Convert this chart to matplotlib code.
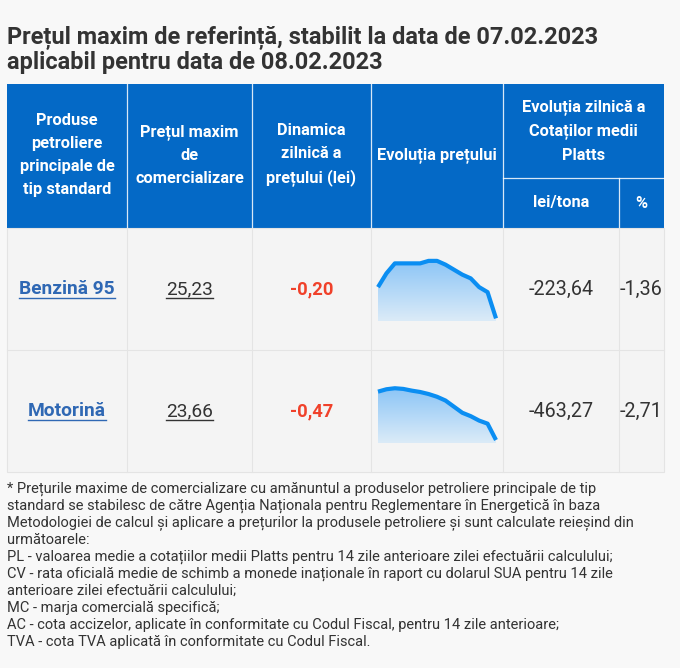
import matplotlib
matplotlib.use("Agg")
import matplotlib.pyplot as plt
import numpy as np
from matplotlib.colors import LinearSegmentedColormap
from matplotlib.patches import Rectangle

plt.rcParams['font.family'] = ['Liberation Sans Narrow', 'Roboto', 'DejaVu Sans']

# ---------------- data ----------------
title_lines = ["Prețul maxim de referință, stabilit la data de 07.02.2023",
               "aplicabil pentru data de 08.02.2023"]
products = ["Benzină 95", "Motorină"]
prices = ["25,23", "23,66"]
dynamics = ["-0,20", "-0,47"]
platts_lei = ["-223,64", "-463,27"]
platts_pct = ["-1,36", "-2,71"]
spark_benzina = [25.48, 25.59, 25.67, 25.67, 25.67, 25.67, 25.69, 25.69,
                 25.66, 25.62, 25.58, 25.55, 25.48, 25.44, 25.23]
spark_motorina = [25.08, 25.15, 25.18, 25.16, 25.11, 25.07, 25.01, 24.93,
                  24.82, 24.64, 24.46, 24.36, 24.23, 24.14, 23.66]
spark_ylims = [(25.209, 25.737), (23.572, 25.51)]
header_cols = ["Produse\npetroliere\nprincipale de\ntip standard",
               "Prețul maxim\nde\ncomercializare",
               "Dinamica\nzilnică a\nprețului (lei)",
               "Evoluția prețului"]
header_group = "Evoluția zilnică a\nCotaților medii\nPlatts"
sub_headers = ["lei/tona", "%"]
footnote = [
    "* Prețurile maxime de comercializare cu amănuntul a produselor petroliere principale de tip",
    "standard se stabilesc de către Agenția Naționala pentru Reglementare în Energetică în baza",
    "Metodologiei de calcul și aplicare a prețurilor la produsele petroliere și sunt calculate reieșind din",
    "următoarele:",
    "PL - valoarea medie a cotațiilor medii Platts pentru 14 zile anterioare zilei efectuării calculului;",
    "CV - rata oficială medie de schimb a monede inaționale în raport cu dolarul SUA pentru 14 zile",
    "anterioare zilei efectuării calculului;",
    "MC - marja comercială specifică;",
    "AC - cota accizelor, aplicate în conformitate cu Codul Fiscal, pentru 14 zile anterioare;",
    "TVA - cota TVA aplicată în conformitate cu Codul Fiscal.",
]

# ---------------- layout ----------------
W, H = 680, 668
BG = "#f8f8f8"
ROWBG = "#f4f4f4"
BLUE = "#0469c6"
GRID = "#e4e4e4"
cols = [7, 127, 252, 371, 503, 619, 664]
head_top, sub_y, head_bot = 84, 178, 228
row_edges = [228, 350, 472]

fig = plt.figure(figsize=(W / 100, H / 100), dpi=100, facecolor=BG)
ax = fig.add_axes([0, 0, 1, 1])
ax.set_xlim(0, W)
ax.set_ylim(H, 0)
ax.axis("off")

# title
for i, t in enumerate(title_lines):
    ax.text(7, 38 + i * 25, t, fontsize=16.9, fontweight="bold", color="#333333",
            ha="left", va="center")

# header background
ax.add_patch(Rectangle((cols[0], head_top), cols[-1] - cols[0], head_bot - head_top,
                       facecolor=BLUE, edgecolor="none"))
for x in cols[1:-1]:
    y0 = head_top if x != cols[5] else sub_y
    ax.plot([x, x], [y0, head_bot], color="white", lw=0.9, alpha=0.85)
ax.plot([cols[4], cols[6]], [sub_y, sub_y], color="white", lw=0.9, alpha=0.85)

hc = dict(color="white", fontweight="bold", fontsize=11.8, ha="center",
          va="center", linespacing=1.68)
for i, t in enumerate(header_cols):
    ax.text((cols[i] + cols[i + 1]) / 2, 155, t, **hc)
ax.text((cols[4] + cols[6]) / 2, 131, header_group, **hc)
for j, t in enumerate(sub_headers):
    ax.text((cols[4 + j] + cols[5 + j]) / 2, 203, t, **hc)

# body
ax.add_patch(Rectangle((cols[0], row_edges[0]), cols[-1] - cols[0],
                       row_edges[-1] - row_edges[0], facecolor=ROWBG,
                       edgecolor=GRID, lw=0.8))
for x in cols[1:-1]:
    ax.plot([x, x], [row_edges[0], row_edges[-1]], color=GRID, lw=0.8)
ax.plot([cols[0], cols[-1]], [row_edges[1]] * 2, color=GRID, lw=0.8)

underlined = []
for r in range(len(products)):
    yc = (row_edges[r] + row_edges[r + 1]) / 2
    t1 = ax.text((cols[0] + cols[1]) / 2, yc, products[r], color="#2f68b4",
                 fontweight="bold", fontsize=13.8, ha="center", va="center")
    t2 = ax.text((cols[1] + cols[2]) / 2, yc, prices[r], color="#333333",
                 fontsize=13.8, ha="center", va="center")
    underlined += [(t1, "#2f68b4"), (t2, "#333333")]
    ax.text((cols[2] + cols[3]) / 2, yc, dynamics[r], color="#f0412a",
            fontweight="bold", fontsize=13.2, ha="center", va="center")
    ax.text((cols[4] + cols[5]) / 2, yc, platts_lei[r], color="#333333",
            fontsize=14.2, ha="center", va="center")
    ax.text((cols[5] + cols[6]) / 2, yc, platts_pct[r], color="#333333",
            fontsize=14.2, ha="center", va="center")

# footnote
for i, t in enumerate(footnote):
    ax.text(7, 489 + i * 17, t, fontsize=10.5, color="#333333", ha="left", va="center")

# underlines
fig.canvas.draw()
inv = ax.transData.inverted()
for t, c in underlined:
    bb = t.get_window_extent()
    (x0, y0), (x1, y1) = inv.transform([[bb.x0, bb.y0], [bb.x1, bb.y1]])
    ax.plot([x0, x1], [y0 - 0.5, y0 - 0.5], color=c, lw=1.0)

# sparklines
cmap = LinearSegmentedColormap.from_list("g", ["#8cc5f6", "#dbebf8"])
spark_boxes = [(378, 255, 496, 321), (378, 377, 496, 443)]
for series, (sx0, sy0, sx1, sy1), yl in zip([spark_benzina, spark_motorina],
                                             spark_boxes, spark_ylims):
    sax = fig.add_axes([sx0 / W, 1 - sy1 / H, (sx1 - sx0) / W, (sy1 - sy0) / H])
    sax.set_facecolor("none")
    sax.axis("off")
    xs = np.arange(len(series))
    sax.set_xlim(0, len(series) - 1)
    sax.set_ylim(*yl)
    poly = sax.fill_between(xs, series, yl[0], facecolor="none", edgecolor="none")
    grad = np.linspace(0, 1, 100).reshape(-1, 1)
    im = sax.imshow(grad, cmap=cmap, aspect="auto",
                    extent=[0, len(series) - 1, yl[0], max(series)], origin="upper")
    im.set_clip_path(poly.get_paths()[0], sax.transData)
    sax.set_ylim(*yl)
    sax.plot(xs, series, color="#0b8ef2", lw=3.0, solid_joinstyle="round",
             solid_capstyle="butt", clip_on=False)

fig.savefig("out.png", dpi=100, facecolor=BG)
